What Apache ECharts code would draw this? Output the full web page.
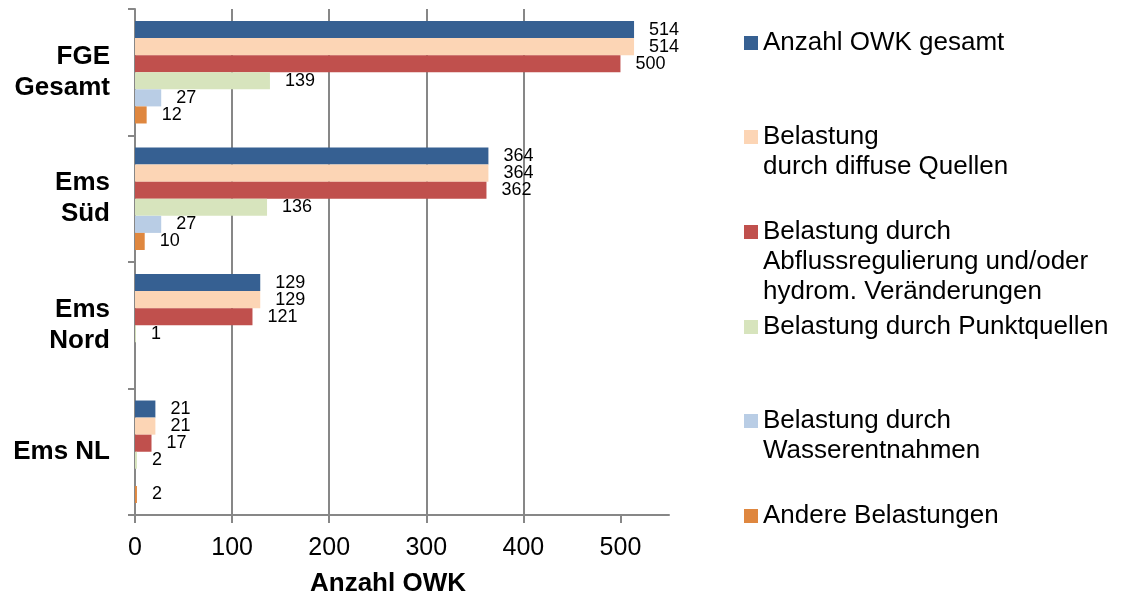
<!DOCTYPE html>
<html>
<head>
<meta charset="utf-8">
<script src="https://cdn.jsdelivr.net/npm/echarts@6/dist/echarts.min.js"></script>
<style>
  html, body { margin: 0; padding: 0; background: #fff; }
  #chart { width: 1125px; height: 596px; }
</style>
</head>
<body>
<div id="chart"></div>
<script>
// Daten (von oben nach unten)
const categories = ['FGE\nGesamt', 'Ems\nSüd', 'Ems\nNord', 'Ems NL']
const seriesNames = [
  'Anzahl OWK gesamt',
  'Belastung\ndurch diffuse Quellen',
  'Belastung durch\nAbflussregulierung und/oder\nhydrom. Veränderungen',
  'Belastung durch Punktquellen',
  'Belastung durch\nWasserentnahmen',
  'Andere Belastungen'
]
const gesamt = [514, 364, 129, 21]
const diffus = [514, 364, 129, 21]
const abfluss = [500, 362, 121, 17]
const punkt = [139, 136, 1, 2]
const wasser = [27, 27, null, null]
const andere = [12, 10, null, 2]
const xTicks = [0, 100, 200, 300, 400, 500]

const colors = ['#366092', '#FCD5B5', '#C0504D', '#D7E4BD', '#B9CDE5', '#DF873F']
const legendY = [43, 137, 232, 327, 421, 516] // Mitte des Icons
const font = "'Liberation Sans', Arial, sans-serif"
const gray = '#878787'
const lineH = 30

const chart = echarts.init(document.getElementById('chart'))

const values = [gesamt, diffus, abfluss, punkt, wasser, andere]

// eine Legende pro Eintrag; leere Zeilen davor, damit das Icon an der ersten Zeile steht
const legends = seriesNames.map((name, i) => {
  const n = name.split('\n').length
  return {
    orient: 'vertical',
    left: 744,
    top: legendY[i] - (lineH * n - 15),
    padding: 0,
    itemWidth: 14,
    itemHeight: 14,
    icon: 'rect',
    selectedMode: false,
    data: [name],
    formatter: (nm) => '\n'.repeat(n - 1) + nm,
    textStyle: {
      fontFamily: font,
      fontSize: 26,
      color: '#000',
      lineHeight: lineH
    }
  }
})

chart.setOption({
  animation: false,
  color: colors,
  textStyle: { fontFamily: font },
  legend: legends,
  grid: {
    left: 135,
    right: 456,
    top: 9,
    bottom: 81,
    outerBoundsMode: 'none'
  },
  xAxis: {
    type: 'value',
    min: 0,
    max: 550,
    interval: 100,
    name: 'Anzahl OWK',
    nameLocation: 'middle',
    nameGap: 56,
    nameTextStyle: {
      fontFamily: font,
      fontSize: 26,
      fontWeight: 'bold',
      color: '#000',
      padding: [0, 28, 0, 0]
    },
    axisLine: { show: true, lineStyle: { color: gray, width: 2 } },
    axisTick: { show: true, length: 8, lineStyle: { color: gray, width: 2 }, customValues: xTicks },
    axisLabel: { fontSize: 25, color: '#000', margin: 21, customValues: xTicks },
    splitLine: { show: true, showMaxLine: false, lineStyle: { color: gray, width: 2 } }
  },
  yAxis: {
    type: 'category',
    inverse: true,
    data: categories,
    axisLine: { show: true, lineStyle: { color: gray, width: 2 } },
    axisTick: { show: true, length: 7, lineStyle: { color: gray, width: 2 } },
    axisLabel: {
      fontSize: 26,
      fontWeight: 'bold',
      color: '#000',
      lineHeight: 31,
      margin: 25
    }
  },
  series: seriesNames.map((name, i) => ({
    name: name,
    type: 'bar',
    data: values[i],
    barGap: '0%',
    barCategoryGap: '19%',
    label: {
      show: true,
      position: 'right',
      distance: 15,
      fontSize: 18,
      color: '#000'
    }
  }))
})
</script>
</body>
</html>
